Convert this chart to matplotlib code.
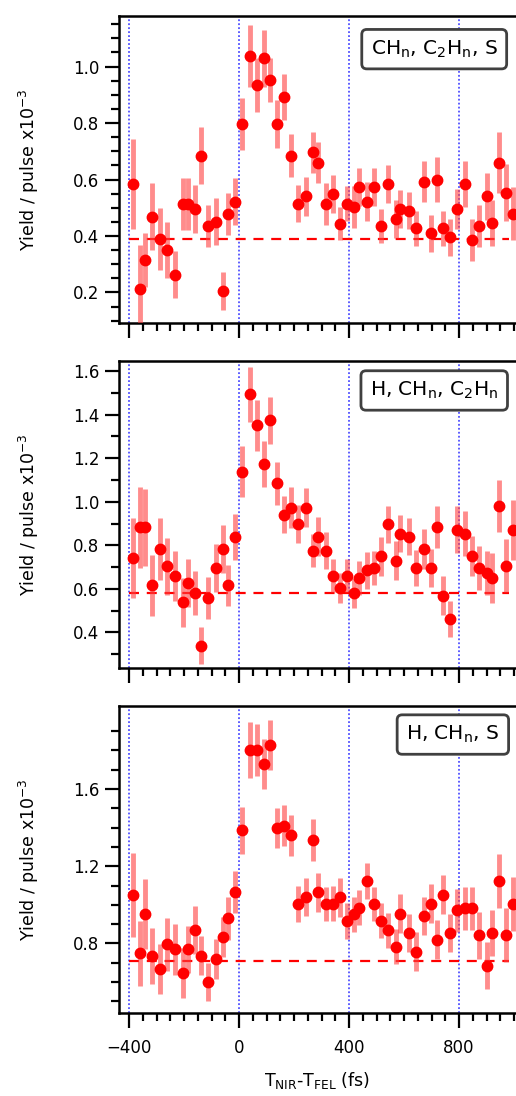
import numpy as np
import matplotlib
matplotlib.use("Agg")
import matplotlib.pyplot as plt
from matplotlib.ticker import MultipleLocator, FixedLocator

plt.rcParams["mathtext.default"] = "regular"
plt.rcParams["font.family"] = "DejaVu Sans"

# pump-probe delay (fs), shared by all three fragment channels
delay = [-386, -359, -341, -316, -289, -261, -233, -204, -186, -161, -137, -113,
         -85, -58, -40, -15, 12, 39, 66, 91, 112, 136, 164, 188, 215, 242, 270,
         288, 315, 341, 367, 392, 418, 437, 464, 491, 517, 543, 570, 586, 616,
         643, 671, 698, 720, 742, 768, 793, 820, 847, 874, 902, 918, 944, 971, 997]

labels = [r"CH$_n$, C$_2$H$_n$, S", r"H, CH$_n$, C$_2$H$_n$", r"H, CH$_n$, S"]

yield_1 = [0.584, 0.212, 0.316, 0.469, 0.389, 0.351, 0.263, 0.514, 0.514, 0.495,
           0.685, 0.436, 0.451, 0.204, 0.479, 0.522, 0.797, 1.038, 0.935, 1.030,
           0.953, 0.797, 0.892, 0.685, 0.514, 0.540, 0.696, 0.660, 0.514, 0.549,
           0.443, 0.514, 0.504, 0.573, 0.522, 0.573, 0.436, 0.584, 0.460, 0.495,
           0.490, 0.428, 0.593, 0.410, 0.599, 0.428, 0.395, 0.495, 0.584, 0.387,
           0.436, 0.540, 0.446, 0.660, 0.554, 0.479]
err_1 = [0.159, 0.155, 0.096, 0.119, 0.109, 0.100, 0.083, 0.091, 0.091, 0.086,
         0.102, 0.075, 0.084, 0.067, 0.075, 0.083, 0.091, 0.110, 0.097, 0.101,
         0.077, 0.086, 0.083, 0.075, 0.065, 0.068, 0.074, 0.074, 0.074, 0.066,
         0.058, 0.062, 0.074, 0.068, 0.068, 0.068, 0.061, 0.068, 0.068, 0.068,
         0.065, 0.062, 0.071, 0.065, 0.080, 0.062, 0.065, 0.071, 0.080, 0.074,
         0.074, 0.083, 0.083, 0.107, 0.100, 0.094]

yield_2 = [0.741, 0.883, 0.883, 0.616, 0.783, 0.703, 0.660, 0.538, 0.627, 0.581,
           0.340, 0.558, 0.696, 0.783, 0.616, 0.838, 1.138, 1.493, 1.351, 1.173,
           1.374, 1.085, 0.940, 0.973, 0.897, 0.973, 0.776, 0.840, 0.776, 0.660,
           0.604, 0.660, 0.581, 0.650, 0.685, 0.696, 0.749, 0.897, 0.730, 0.853,
           0.840, 0.696, 0.783, 0.696, 0.883, 0.569, 0.462, 0.871, 0.853, 0.749,
           0.696, 0.673, 0.650, 0.982, 0.706, 0.871]
err_2 = [0.183, 0.187, 0.177, 0.140, 0.141, 0.130, 0.114, 0.114, 0.108, 0.099,
         0.086, 0.095, 0.111, 0.111, 0.095, 0.107, 0.116, 0.127, 0.117, 0.105,
         0.107, 0.098, 0.085, 0.095, 0.088, 0.090, 0.076, 0.088, 0.084, 0.076,
         0.069, 0.076, 0.069, 0.076, 0.084, 0.076, 0.088, 0.085, 0.088, 0.084,
         0.084, 0.084, 0.092, 0.088, 0.097, 0.088, 0.084, 0.108, 0.103, 0.092,
         0.099, 0.103, 0.114, 0.120, 0.122, 0.139]

yield_3 = [1.053, 0.749, 0.955, 0.736, 0.669, 0.797, 0.770, 0.649, 0.770, 0.868,
           0.736, 0.602, 0.719, 0.834, 0.931, 1.066, 1.386, 1.802, 1.802, 1.729,
           1.827, 1.398, 1.410, 1.361, 1.006, 1.040, 1.335, 1.066, 1.006, 1.006,
           1.040, 0.918, 0.952, 0.985, 1.125, 1.006, 0.918, 0.868, 0.783, 0.955,
           0.854, 0.758, 0.943, 1.006, 0.820, 1.053, 0.854, 0.972, 0.982, 0.982,
           0.842, 0.686, 0.856, 1.125, 0.842, 1.006]
err_3 = [0.217, 0.168, 0.181, 0.146, 0.130, 0.137, 0.132, 0.130, 0.122, 0.124,
         0.101, 0.098, 0.103, 0.103, 0.111, 0.109, 0.120, 0.145, 0.133, 0.129,
         0.131, 0.106, 0.107, 0.107, 0.094, 0.100, 0.109, 0.101, 0.088, 0.090,
         0.101, 0.093, 0.090, 0.090, 0.094, 0.088, 0.090, 0.090, 0.090, 0.100,
         0.100, 0.100, 0.100, 0.100, 0.100, 0.100, 0.100, 0.110, 0.110, 0.110,
         0.120, 0.120, 0.120, 0.140, 0.140, 0.140]

baseline = [0.39, 0.58, 0.71]
ylims = [(0.092, 1.179), (0.237, 1.646), (0.44, 2.03)]
ymajor = [[0.2, 0.4, 0.6, 0.8, 1.0],
          [0.4, 0.6, 0.8, 1.0, 1.2, 1.4, 1.6],
          [0.8, 1.2, 1.6]]
yminor = [np.arange(0.1, 1.16, 0.05), np.arange(0.3, 1.61, 0.1),
          np.arange(0.5, 1.91, 0.1)]
box_x = [0.794, 0.794, 0.841]
box_y = [0.892, 0.904, 0.907]
markers_t = [-400, 0, 400, 800]

series = [(yield_1, err_1), (yield_2, err_2), (yield_3, err_3)]

fig = plt.figure(figsize=(5.16, 10.96), dpi=100)
W, H = 516.0, 1096.0
left = 119 / W
width = 1.0 - left
tops = [16, 361, 706]
ph = 307

for i, (y, e) in enumerate(series):
    ax = fig.add_axes([left, 1 - (tops[i] + ph) / H, width, ph / H])
    for t in markers_t:
        ax.axvline(t, color="#5050ff", lw=1.3, ls=(0, (1, 1.2)), zorder=1)
    ax.plot([-400, 980], [baseline[i]] * 2, color="red", lw=1.6,
            ls=(0, (4.5, 3.5)), zorder=2)
    ax.errorbar(delay, y, yerr=e, fmt="o", color="red", ms=7.5, mec="red",
                ecolor=(1, 0.25, 0.25, 0.6), elinewidth=3.5, capsize=0, zorder=3)
    ax.set_xlim(-437, 1007)
    ax.set_ylim(*ylims[i])
    ax.xaxis.set_major_locator(MultipleLocator(400))
    ax.xaxis.set_minor_locator(MultipleLocator(50))
    ax.yaxis.set_major_locator(FixedLocator(ymajor[i]))
    ax.yaxis.set_minor_locator(FixedLocator(yminor[i]))
    ax.yaxis.set_major_formatter(plt.FormatStrFormatter("%.1f"))
    ax.tick_params(which="major", direction="out", length=10, width=1.6,
                   labelsize=12)
    ax.tick_params(axis="y", which="major", pad=4)
    ax.tick_params(axis="x", which="major", pad=8, length=11)
    ax.tick_params(which="minor", direction="out", length=5.5, width=1.6)
    ax.tick_params(top=False, right=False, which="both")
    for s in ("left", "bottom", "top"):
        ax.spines[s].set_linewidth(1.8)
    ax.spines["right"].set_visible(False)
    if i < 2:
        ax.tick_params(labelbottom=False)
    ax.set_ylabel(r"Yield / pulse x10$^{-3}$", fontsize=12.5)
    ax.yaxis.set_label_coords(-0.197, 0.5)
    ax.text(box_x[i], box_y[i], labels[i], transform=ax.transAxes, ha="center",
            va="center", fontsize=14.5, zorder=5,
            bbox=dict(boxstyle="round,pad=0.45,rounding_size=0.25", fc="white",
                      ec="#404040", lw=2))

ax.set_xlabel(r"T$_{NIR}$-T$_{FEL}$ (fs)", fontsize=12.5, labelpad=9)

fig.savefig("out.png", dpi=100)
